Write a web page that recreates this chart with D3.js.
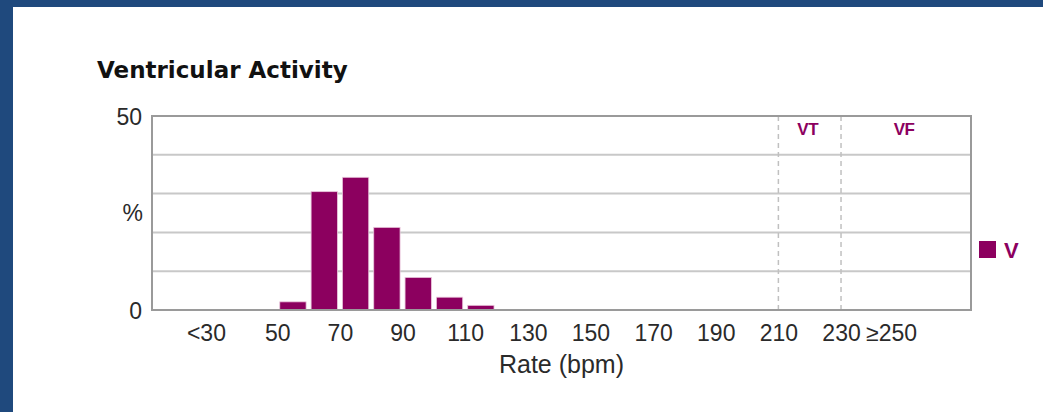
<!DOCTYPE html>
<html><head><meta charset="utf-8">
<script src="https://cdn.jsdelivr.net/npm/d3@7"></script>
<style>html,body{margin:0;padding:0;background:#1f497d;} svg{display:block}</style>
</head><body><svg id="c" width="1043" height="412"></svg>
<script>
const binStarts = [50, 60, 70, 80, 90, 100, 110];
const binWidth = 10;
const values = [2.1, 30.5, 34.2, 21.3, 8.4, 3.3, 1.2];
const tickValues = [30, 50, 70, 90, 110, 130, 150, 170, 190, 210, 230, 250];
const tickLabels = ["<30", "50", "70", "90", "110", "130", "150", "170", "190", "210", "230", "≥250"];
const zoneBounds = [210, 230];
const zoneLabels = ["VT", "VF"];
const zoneRanges = [[210, 230], [230, 271.5]];
const yLabelTicks = [0, 50];
const yGrid = [10, 20, 30, 40];
const seriesName = "V";

const svg = d3.select("#c");
const color = "#8c005f";
const pLeft = 152, pRight = 971, pTop = 116, pBottom = 310;

svg.append("rect").attr("x", 13).attr("y", 7).attr("width", 1043 - 13).attr("height", 412 - 7).attr("fill", "#fff");

const x = d3.scaleLinear().domain([10, 271.5]).range([pLeft, pRight]);
const y = d3.scaleLinear().domain([0, 50]).range([pBottom, pTop]);

svg.append("text").attr("x", 97).attr("y", 78)
  .attr("font-family", "DejaVu Sans").attr("font-weight", "bold").attr("font-size", 23)
  .attr("fill", "#111").text("Ventricular Activity");

// grid
svg.append("g").selectAll("line").data(yGrid).join("line")
  .attr("x1", pLeft).attr("x2", pRight).attr("y1", d => y(d)).attr("y2", d => y(d))
  .attr("stroke", "#c8c8c8").attr("stroke-width", 2);

// zone dashed lines
svg.append("g").selectAll("line").data(zoneBounds).join("line")
  .attr("x1", d => x(d)).attr("x2", d => x(d)).attr("y1", pTop).attr("y2", pBottom)
  .attr("stroke", "#c0c0c0").attr("stroke-width", 1.5).attr("stroke-dasharray", "5,4");

// bars
svg.append("g").selectAll("rect").data(binStarts).join("rect")
  .attr("x", d => x(d) + 2.5)
  .attr("width", d => x(d + binWidth) - x(d) - 5)
  .attr("y", (d, i) => y(values[i]))
  .attr("height", (d, i) => y(0) - y(values[i]))
  .attr("fill", color).attr("stroke", "#e9c6db").attr("stroke-width", 0.8);

// border
svg.append("rect").attr("x", pLeft).attr("y", pTop).attr("width", pRight - pLeft).attr("height", pBottom - pTop)
  .attr("fill", "none").attr("stroke", "#9a9a9a").attr("stroke-width", 2);

// zone labels
svg.append("g").selectAll("text").data(zoneLabels).join("text")
  .attr("x", (d, i) => x((zoneRanges[i][0] + zoneRanges[i][1]) / 2) - 2)
  .attr("y", 135).attr("text-anchor", "middle")
  .attr("font-family", "Liberation Sans").attr("font-weight", "bold").attr("font-size", 17)
  .attr("letter-spacing", -0.5)
  .attr("fill", color).text(d => d);

// x axis
const xAxis = d3.axisBottom(x).tickValues(tickValues)
  .tickFormat((d, i) => tickLabels[i]).tickSize(0).tickPadding(0);
const gx = svg.append("g").attr("transform", `translate(0,${pBottom})`).call(xAxis);
gx.select(".domain").remove();
gx.selectAll("text").attr("y", 31).attr("dy", 0)
  .attr("font-family", "Liberation Sans").attr("font-size", 23).attr("fill", "#2a2a2a");
gx.selectAll("text").each(function(d, i) {
  const lab = tickLabels[i];
  if (lab.startsWith("<")) {
    const pw = this.getSubStringLength(0, 1);
    d3.select(this).attr("dx", -pw / 2 - 2);
  } else if (lab.startsWith("≥")) {
    const pw = this.getSubStringLength(0, 1);
    d3.select(this).attr("dx", -pw);
  }
});

// y axis
const yAxis = d3.axisLeft(y).tickValues(yLabelTicks).tickSize(0).tickPadding(0);
const gy = svg.append("g").attr("transform", `translate(142,0)`).call(yAxis);
gy.select(".domain").remove();
gy.selectAll("text").attr("x", 0).attr("dy", "0.36em")
  .attr("font-family", "Liberation Sans").attr("font-size", 23).attr("fill", "#2a2a2a");

svg.append("text").attr("x", 143).attr("y", 221).attr("text-anchor", "end")
  .attr("font-family", "Liberation Sans").attr("font-size", 23).attr("fill", "#2a2a2a").text("%");

svg.append("text").attr("x", (pLeft + pRight) / 2).attr("y", 373).attr("text-anchor", "middle")
  .attr("font-family", "Liberation Sans").attr("font-size", 25).attr("fill", "#2a2a2a").text("Rate (bpm)");

// legend
svg.append("rect").attr("x", 979).attr("y", 241).attr("width", 17).attr("height", 17).attr("fill", color);
svg.append("text").attr("x", 1004).attr("y", 258)
  .attr("font-family", "Liberation Sans").attr("font-weight", "bold").attr("font-size", 22)
  .attr("fill", color).text(seriesName);
</script></body></html>
